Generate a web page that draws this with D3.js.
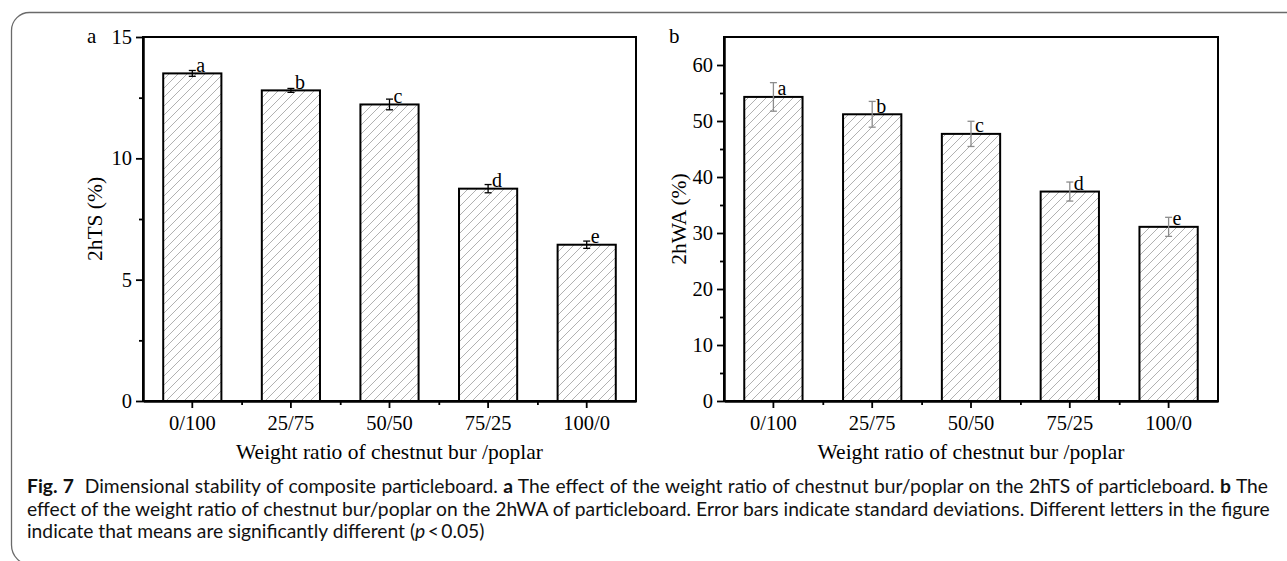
<!DOCTYPE html>
<html>
<head>
<meta charset="utf-8">
<script src="https://cdn.jsdelivr.net/npm/d3@7"></script>
<style>
  body { margin: 0; background: #fff; }
  svg { display: block; }
</style>
</head>
<body>
<svg id="fig" width="1287" height="561"></svg>
<script>
// Data
const categories = ['0/100', '25/75', '50/50', '75/25', '100/0'];

const tsMeans = [13.5, 12.8, 12.22, 8.75, 6.44];
const tsErrors = [0.12, 0.08, 0.22, 0.17, 0.15];
const tsLetters = ['a', 'b', 'c', 'd', 'e'];
const tsTicks = [0, 5, 10, 15];
const tsMinorTicks = [2.5, 7.5, 12.5];

const waMeans = [54.3, 51.2, 47.7, 37.4, 31.1];
const waErrors = [2.55, 2.3, 2.25, 1.7, 1.7];
const waLetters = ['a', 'b', 'c', 'd', 'e'];
const waTicks = [0, 10, 20, 30, 40, 50, 60];
const waMinorTicks = [5, 15, 25, 35, 45, 55];

const xTitle = 'Weight ratio of chestnut bur /poplar';

const svg = d3.select('#fig');
const serif = '"Liberation Serif", "Times New Roman", serif';

// hatch fill for the bars
const defs = svg.append('defs');
const hatch = defs.append('pattern')
    .attr('id', 'hatch')
    .attr('patternUnits', 'userSpaceOnUse')
    .attr('width', 9)
    .attr('height', 9);
hatch.append('path')
    .attr('d', 'M-1,10 L10,-1 M-1,1 L1,-1 M8,10 L10,8')
    .attr('stroke', '#a8a8a8')
    .attr('stroke-width', 0.9);

// outer frame of the figure box
svg.append('path')
    .attr('d', 'M1290,12.5 H30 A18,18 0 0 0 11.5,30.5 V545 A20,20 0 0 0 31.5,565')
    .attr('fill', 'none')
    .attr('stroke', '#6a6a6a')
    .attr('stroke-width', 1.3);

function drawPanel(p) {
    const x = d3.scaleBand()
        .domain(categories)
        .range([p.left, p.right])
        .paddingInner(0.41)
        .paddingOuter(0.205);

    const y = d3.scaleLinear()
        .domain(p.domain)
        .range([401, 37]);

    const g = svg.append('g');

    const rows = categories.map((c, i) => ({
        cat: c, mean: p.means[i], err: p.errors[i], letter: p.letters[i]
    }));

    // bars
    g.selectAll('.bar')
        .data(rows)
        .enter()
        .append('rect')
        .attr('x', d => x(d.cat))
        .attr('y', d => y(d.mean))
        .attr('width', x.bandwidth())
        .attr('height', d => y(0) - y(d.mean))
        .attr('fill', 'url(#hatch)')
        .attr('stroke', '#000')
        .attr('stroke-width', 2);

    // error bars
    const eb = g.selectAll('.err')
        .data(rows)
        .enter()
        .append('g')
        .attr('transform', d => `translate(${x(d.cat) + x.bandwidth() / 2},0)`)
        .attr('stroke', p.errColor)
        .attr('stroke-width', 1.3);
    eb.append('line')
        .attr('y1', d => y(d.mean - d.err))
        .attr('y2', d => y(d.mean + d.err));
    eb.append('line')
        .attr('x1', -3.5).attr('x2', 3.5)
        .attr('y1', d => y(d.mean + d.err))
        .attr('y2', d => y(d.mean + d.err));
    eb.append('line')
        .attr('x1', -3.5).attr('x2', 3.5)
        .attr('y1', d => y(d.mean - d.err))
        .attr('y2', d => y(d.mean - d.err));

    // significance letters
    g.selectAll('.letter')
        .data(rows)
        .enter()
        .append('text')
        .attr('x', d => x(d.cat) + x.bandwidth() / 2 + 4)
        .attr('y', d => y(d.mean) - 1.5)
        .attr('font-family', serif)
        .attr('font-size', 20)
        .text(d => d.letter);

    // plot frame
    g.append('rect')
        .attr('x', p.left)
        .attr('y', 37)
        .attr('width', p.right - p.left)
        .attr('height', 364)
        .attr('fill', 'none')
        .attr('stroke', '#000')
        .attr('stroke-width', 2);

    // y axis
    const yAxis = g.append('g')
        .attr('transform', `translate(${p.left},0)`)
        .call(d3.axisLeft(y).tickValues(p.ticks).tickSize(7).tickSizeOuter(0).tickPadding(4));
    g.append('g')
        .attr('transform', `translate(${p.left},0)`)
        .call(d3.axisLeft(y).tickValues(p.minor).tickSize(4).tickSizeOuter(0).tickFormat(''));

    // x axis
    const xAxis = g.append('g')
        .attr('transform', 'translate(0,401)')
        .call(d3.axisBottom(x).tickSize(7).tickSizeOuter(0).tickPadding(7));
    const xMinor = d3.scaleLinear().domain([0, categories.length]).range([p.left, p.right]);
    g.append('g')
        .attr('transform', 'translate(0,401)')
        .call(d3.axisBottom(xMinor).tickValues([1, 2, 3, 4]).tickSize(4).tickSizeOuter(0).tickFormat(''));

    g.selectAll('.domain').attr('stroke-width', 2);
    g.selectAll('.tick line').attr('stroke-width', 1.8);

    [yAxis, xAxis].forEach(a => a.selectAll('text')
        .attr('font-family', serif)
        .attr('font-size', 20.5)
        .attr('fill', '#000'));
    xAxis.selectAll('text').attr('dy', '0.71em');

    // axis titles
    g.append('text')
        .attr('transform', `translate(${p.yTitleX},219) rotate(-90)`)
        .attr('text-anchor', 'middle')
        .attr('font-family', serif)
        .attr('font-size', 21.5)
        .text(p.yTitle);

    g.append('text')
        .attr('x', (p.left + p.right) / 2)
        .attr('y', 459)
        .attr('text-anchor', 'middle')
        .attr('font-family', serif)
        .attr('font-size', 21.5)
        .text(xTitle);

    g.append('text')
        .attr('x', p.labelX)
        .attr('y', 43)
        .attr('font-family', serif)
        .attr('font-size', 21)
        .text(p.label);
}

drawPanel({
    left: 143, right: 636, domain: [0, 15],
    means: tsMeans, errors: tsErrors, letters: tsLetters,
    ticks: tsTicks, minor: tsMinorTicks,
    errColor: '#000', yTitle: '2hTS (%)', yTitleX: 102,
    label: 'a', labelX: 87
});

drawPanel({
    left: 724, right: 1218, domain: [0, 65],
    means: waMeans, errors: waErrors, letters: waLetters,
    ticks: waTicks, minor: waMinorTicks,
    errColor: '#8c8c8c', yTitle: '2hWA (%)', yTitleX: 686,
    label: 'b', labelX: 669
});

// caption
const capFont = 'Lato, "Open Sans", sans-serif';
const captionLines = [
    [['Fig. 7', true], ['  Dimensional stability of composite particleboard. ', false], ['a', true],
     [' The effect of the weight ratio of chestnut bur/poplar on the 2hTS of particleboard. ', false], ['b', true], [' The', false]],
    [['effect of the weight ratio of chestnut bur/poplar on the 2hWA of particleboard. Error bars indicate standard deviations. Different letters in the figure', false]],
    [['indicate that means are significantly different (', false], ['p', 'i'], ['\u2009<\u20090.05)', false]]
];
const capBase = [493, 515.5, 538];
const capLeft = 27, capRight = 1268;

const capTexts = captionLines.map((parts, i) => {
    const t = svg.append('text')
        .attr('x', capLeft)
        .attr('y', capBase[i])
        .attr('font-family', capFont)
        .attr('font-size', 17)
        .attr('fill', '#111')
        .style('white-space', 'pre');
    parts.forEach(([s, style]) => {
        const ts = t.append('tspan').text(s);
        if (style === true) ts.attr('font-weight', 'bold');
        if (style === 'i') ts.attr('font-style', 'italic');
    });
    return t;
});

// size the font so line 1 nearly fills the width, then justify lines 1 and 2
const w0 = capTexts[0].node().getComputedTextLength();
const fs = Math.max(15, Math.min(20, 17 * (capRight - capLeft) / w0 * 0.99));
capTexts.forEach(t => t.attr('font-size', fs));
[0, 1].forEach(i => {
    const t = capTexts[i];
    const w = t.node().getComputedTextLength();
    const spaces = t.text().split(' ').length - 1;
    t.attr('word-spacing', Math.max(0, ((capRight - capLeft) - w) / spaces));
});
</script>
</body>
</html>
